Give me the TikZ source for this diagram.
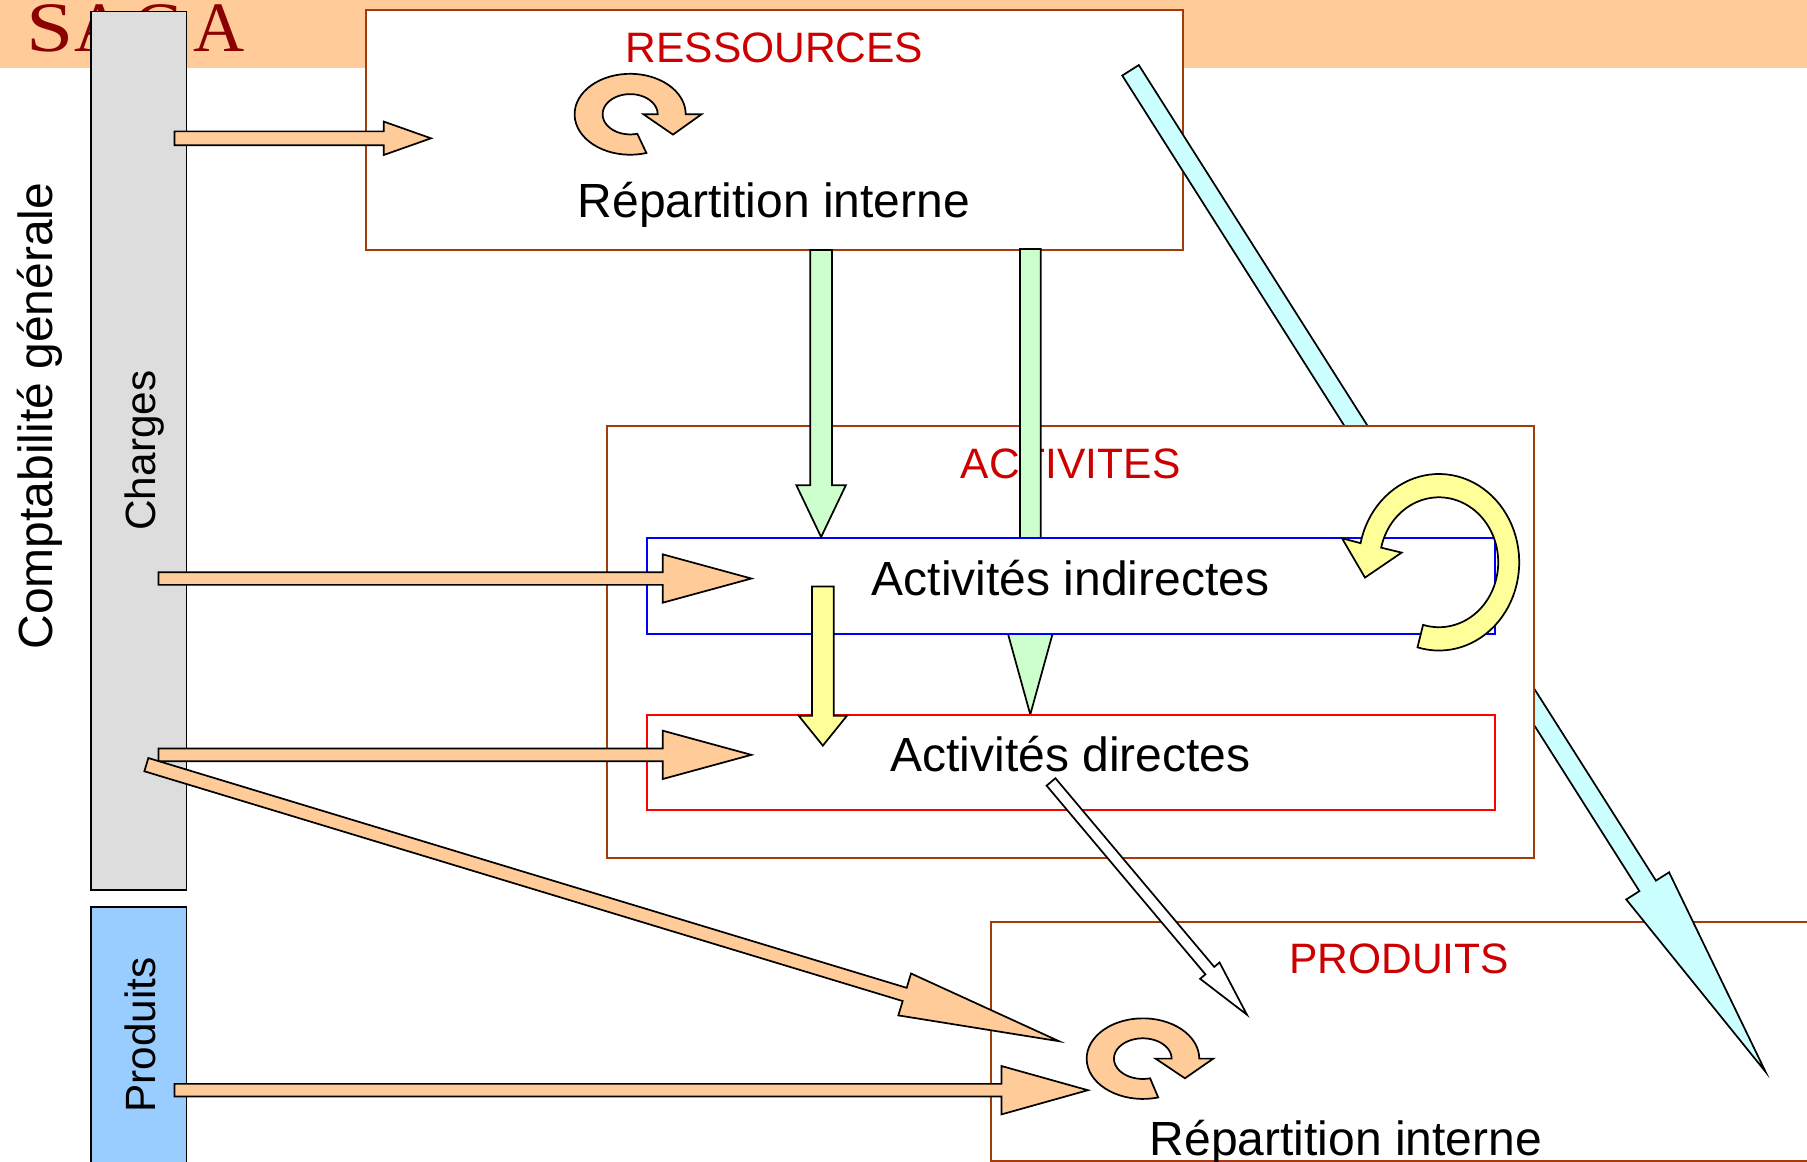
\documentclass[tikz,border=0pt]{standalone}
\usepackage{fontspec}
\usetikzlibrary{calc}
\setmainfont{Liberation Sans}
\newfontfamily\sagafont[LetterSpace=12]{Liberation Serif}
\newfontfamily\sagawide[FakeStretch=1.2,LetterSpace=7]{Liberation Serif}
\definecolor{peach}{HTML}{FFCC99}
\definecolor{brownline}{HTML}{A33C0B}
\definecolor{titlered}{HTML}{CC0000}
\definecolor{sagared}{HTML}{8B0000}
\definecolor{mint}{HTML}{CCFFCC}
\definecolor{lemon}{HTML}{FFFF99}
\definecolor{aqua}{HTML}{CCFFFF}
\definecolor{skyb}{HTML}{99CCFF}
\definecolor{barg}{HTML}{DDDDDD}
\tikzset{
  shapeline/.style={draw=black,line width=0.85pt,line join=miter},
  brownbox/.style={draw=brownline,fill=white,line width=1pt,rectangle,inner sep=0pt,outer sep=0pt,anchor=north west},
  colbox/.style={line width=1pt,fill=white,rectangle,inner sep=0pt,outer sep=0pt,anchor=north west},
  barbox/.style={draw=black,line width=0.8pt,rectangle,inner sep=0pt,outer sep=0pt,anchor=north west},
  bigtext/.style={font=\fontsize{23.7pt}{28pt}\selectfont,anchor=base,inner sep=0pt},
  title/.style={font=\fontsize{21pt}{25pt}\selectfont,text=titlered,anchor=base,inner sep=0pt},
  bartext/.style={font=\fontsize{20.9pt}{25pt}\selectfont,rotate=90,anchor=base,inner sep=0pt}
}
% block arrow: fill, from, to, half shaft, half head, head length (picture units)
\newcommand{\blockarrow}[6]{%
  \coordinate (hb) at ($(#3)!#6*0.02cm!(#2)$);
  \draw[shapeline,fill=#1]
    ($(#2)!#4*0.02cm!90:(#3)$) -- ($(hb)!#4*0.02cm!90:(#3)$) -- ($(hb)!#5*0.02cm!90:(#3)$)
    -- (#3) -- ($(hb)!#5*0.02cm!-90:(#3)$) -- ($(hb)!#4*0.02cm!-90:(#3)$) -- ($(#2)!#4*0.02cm!-90:(#3)$) -- cycle;
}
\begin{document}
\begin{tikzpicture}[x=0.02cm,y=-0.02cm]
\useasboundingbox (0,0) rectangle (1568,1008.3);
\clip (0,0) rectangle (1568,1008.3);
% banner
\fill[peach] (0,0) rectangle (1568,59);
\node[font=\sagafont\fontsize{35pt}{40pt}\selectfont,text=sagared,anchor=base west,inner sep=0pt] (saga) at (23,45) {{\sagawide S}AGA};
% side bars
\node[barbox,fill=barg,minimum width=1.66cm,minimum height=15.25cm] (charges) at (79,10) {};
\node[barbox,fill=skyb,minimum width=1.66cm,minimum height=4.6cm] (produitsbar) at (79,787) {};
\node[bartext] (chargest) at (134.5,391) {Charges};
\node[bartext] (produitst) at (134.5,898) {Produits};
\node[font=\fontsize{23.7pt}{28pt}\selectfont,rotate=90,anchor=base,inner sep=0pt] (compta) at (45.5,361) {Comptabilité générale};
% ressources
\node[brownbox,minimum width=14.17cm,minimum height=4.16cm] (res) at (318,9) {};
\node[title] (rest) at (672,54) {RESSOURCES};
\node[bigtext] (rep1) at (671.5,189) {Répartition interne};
% produits box
\node[brownbox,minimum width=14.5cm,minimum height=4.15cm] (prod) at (860,800) {};
\node[title] (prodt) at (1214,845) {PRODUITS};
\node[bigtext] (rep2) at (1168,1003) {Répartition interne};
% cyan arrow
\coordinate (cyanA) at (981,61);
\coordinate (cyanB) at (1532,930);
\blockarrow{aqua}{cyanA}{cyanB}{8.5}{22}{191}
% activites
\node[brownbox,minimum width=16.1cm,minimum height=7.5cm] (act) at (526.5,370) {};
\node[title] (actt) at (929,415) {ACTIVITES};
% green arrow through indirect box
\coordinate (greenA) at (894,216);
\coordinate (greenB) at (894,620);
\blockarrow{mint}{greenA}{greenB}{9}{23.5}{85}
% inner boxes
\node[colbox,draw=blue,minimum width=14.72cm,minimum height=1.66cm] (ind) at (561,467) {};
\node[colbox,draw=red,minimum width=14.72cm,minimum height=1.66cm] (dir) at (561,620) {};
\node[bigtext] (indt) at (929,517) {Activités indirectes};
\node[bigtext] (dirt) at (929,669.5) {Activités directes};
% green arrow 1
\coordinate (green1A) at (712.5,217);
\coordinate (green1B) at (712.5,466);
\blockarrow{mint}{green1A}{green1B}{9.5}{21.5}{45}
% yellow straight
\coordinate (yelA) at (714,509);
\coordinate (yelB) at (714,647);
\blockarrow{lemon}{yelA}{yelB}{9.5}{21}{26}
% orange arrows
\coordinate (o1A) at (151.5,120);
\coordinate (o1B) at (374,120);
\blockarrow{peach}{o1A}{o1B}{6}{14.5}{41}
\coordinate (o2A) at (137.5,502);
\coordinate (o2B) at (652,502);
\blockarrow{peach}{o2A}{o2B}{5.5}{21}{77}
\coordinate (o3A) at (137.5,655);
\coordinate (o3B) at (652,655);
\blockarrow{peach}{o3A}{o3B}{5.5}{21}{77}
\coordinate (o4A) at (127,663.5);
\coordinate (o4B) at (919,903.5);
\blockarrow{peach}{o4A}{o4B}{6}{19}{140}
\coordinate (o5A) at (151.5,946);
\coordinate (o5B) at (944,946);
\blockarrow{peach}{o5A}{o5B}{5.5}{21}{75}
% white arrow
\coordinate (wA) at (912,678.5);
\coordinate (wB) at (1082,880.5);
\blockarrow{white}{wA}{wB}{5}{11}{50}
% circular arrows
\begin{scope}[x=0.008855cm,y=-0.005785cm]
\draw[shapeline,fill=peach]
  plot[domain=73:360,samples=50] ({1236+109*cos(\x)},{343+121.5*sin(\x)})
  -- (1376,343) -- (1320,404) -- (1262,343) -- (1290,343)
  -- plot[domain=360:75,samples=50] ({1236+54*cos(\x)},{343+60.5*sin(\x)}) -- cycle;
\end{scope}
\begin{scope}[shift={(824.4,781)},x=0.005785cm,y=-0.005785cm]
\draw[shapeline,fill=peach]
  plot[domain=74.3:360,samples=50] ({579+169*cos(\x)},{476+121*sin(\x)})
  -- (790,476) -- (705,535) -- (617,476) -- (665,476)
  -- plot[domain=360:75.3,samples=50] ({578.5+86.5*cos(\x)},{476+61*sin(\x)}) -- cycle;
\end{scope}
\begin{scope}[shift={(1084.7,381.8)},x=0.005785cm,y=-0.005785cm]
\draw[shapeline,fill=lemon]
  plot[domain=105.5:-167.5,samples=70] ({567+241*cos(\x)},{367+265*sin(\x)})
  -- (276,295) -- (345,413) -- (455,338)
  -- plot[domain=-167:105.5,samples=70] ({567+178*cos(\x)},{367+195*sin(\x)}) -- cycle;
\end{scope}
\end{tikzpicture}
\end{document}
